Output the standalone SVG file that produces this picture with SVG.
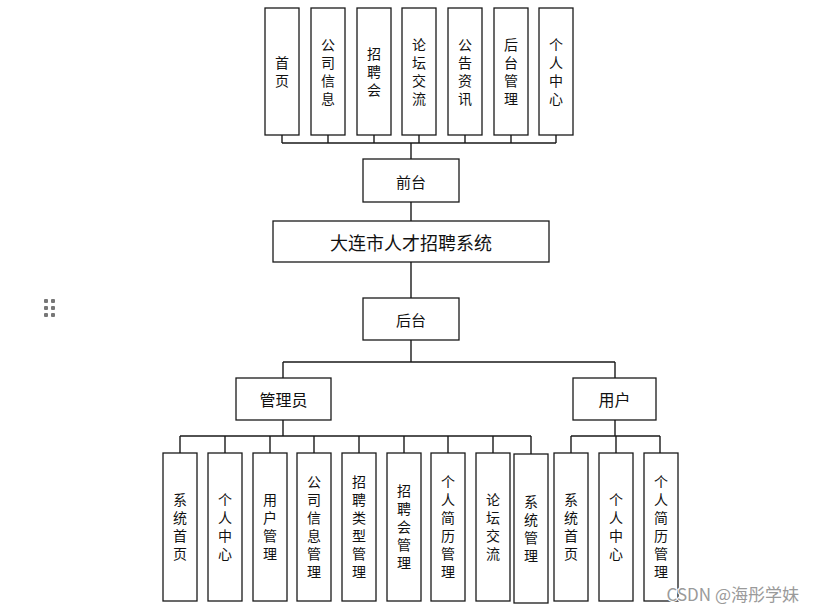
<svg xmlns="http://www.w3.org/2000/svg" width="816" height="612" viewBox="0 0 816 612">
<style>
.b{fill:#fff;stroke:#1a1a1a;stroke-width:1.3}
.t{font-family:"Noto Sans CJK SC","Microsoft YaHei",sans-serif;font-size:14px;fill:#111;text-anchor:middle;dominant-baseline:central}
.v{font-family:"Noto Sans CJK SC","Microsoft YaHei",sans-serif;font-size:14px;fill:#111;text-anchor:middle;writing-mode:vertical-rl;letter-spacing:4px}
.c{fill:none;stroke:#1a1a1a;stroke-width:1.4}
</style>
<rect width="816" height="612" fill="#fff"/>
<g id="handle" fill="#777">
<rect x="44" y="299" width="4" height="4" rx="1"/><rect x="51" y="299" width="4" height="4" rx="1"/>
<rect x="44" y="306" width="4" height="4" rx="1"/><rect x="51" y="306" width="4" height="4" rx="1"/>
<rect x="44" y="313" width="4" height="4" rx="1"/><rect x="51" y="313" width="4" height="4" rx="1"/>
</g>
<g id="connectors" class="c">
<path d="M282 135V143M328 135V143M374 135V143M419 135V143M465 135V143M511 135V143M556 135V143M282 143H556M411 143V159"/>
<path d="M411 202V221M411 262V298M411 340V362M283 362H615M283 362V378M615 362V378"/>
<path d="M283 420V436M180 436H531M180 436V453M225 436V453M270 436V453M314 436V453M359 436V453M404 436V453M448 436V453M493 436V453M531 436V454"/>
<path d="M615 420V436M571 436H660M571 436V453M616 436V453M660 436V453"/>
</g>
<g id="n_shouye"><rect class="b" x="265" y="8" width="34" height="127"/><text class="v" x="282" y="73.5">首页</text></g>
<g id="n_gongsixinxi"><rect class="b" x="311" y="8" width="34" height="127"/><text class="v" x="328" y="73.5">公司信息</text></g>
<g id="n_zhaopinhui"><rect class="b" x="357" y="8" width="34" height="127"/><text class="v" x="374" y="73.5">招聘会</text></g>
<g id="n_luntan"><rect class="b" x="402" y="8" width="34" height="127"/><text class="v" x="419" y="73.5">论坛交流</text></g>
<g id="n_gonggao"><rect class="b" x="448" y="8" width="34" height="127"/><text class="v" x="465" y="73.5">公告资讯</text></g>
<g id="n_houtaiguanli"><rect class="b" x="494" y="8" width="34" height="127"/><text class="v" x="511" y="73.5">后台管理</text></g>
<g id="n_gerenzhongxin"><rect class="b" x="539" y="8" width="34" height="127"/><text class="v" x="556" y="73.5">个人中心</text></g>
<g id="n_qiantai"><rect class="b" x="363" y="159" width="96" height="43"/><text class="t" x="411" y="181" style="font-size:15px">前台</text></g>
<g id="n_system"><rect class="b" x="273" y="221" width="276" height="41"/><text class="t" x="411" y="242" style="font-size:18px">大连市人才招聘系统</text></g>
<g id="n_houtai"><rect class="b" x="363" y="298" width="96" height="42"/><text class="t" x="411" y="319" style="font-size:15px">后台</text></g>
<g id="n_admin"><rect class="b" x="236" y="378" width="95" height="42"/><text class="t" x="283.5" y="399" style="font-size:16px">管理员</text></g>
<g id="n_user"><rect class="b" x="573" y="378" width="83" height="42"/><text class="t" x="614.5" y="399" style="font-size:16px">用户</text></g>
<g id="a1"><rect class="b" x="163" y="453" width="34" height="148"/><text class="v" x="180" y="529">系统首页</text></g>
<g id="a2"><rect class="b" x="208" y="453" width="34" height="148"/><text class="v" x="225" y="529">个人中心</text></g>
<g id="a3"><rect class="b" x="253" y="453" width="34" height="148"/><text class="v" x="270" y="529">用户管理</text></g>
<g id="a4"><rect class="b" x="297" y="453" width="34" height="148"/><text class="v" x="314" y="529">公司信息管理</text></g>
<g id="a5"><rect class="b" x="342" y="453" width="34" height="148"/><text class="v" x="359" y="529">招聘类型管理</text></g>
<g id="a6"><rect class="b" x="387" y="453" width="34" height="148"/><text class="v" x="404" y="529">招聘会管理</text></g>
<g id="a7"><rect class="b" x="431" y="453" width="34" height="148"/><text class="v" x="448" y="529">个人简历管理</text></g>
<g id="a8"><rect class="b" x="476" y="453" width="34" height="148"/><text class="v" x="493" y="529">论坛交流</text></g>
<g id="a9"><rect class="b" x="514" y="454" width="34" height="149"/><text class="v" x="531" y="530.5">系统管理</text></g>
<g id="u1"><rect class="b" x="554" y="453" width="34" height="148"/><text class="v" x="571" y="529">系统首页</text></g>
<g id="u2"><rect class="b" x="599" y="453" width="34" height="148"/><text class="v" x="616" y="529">个人中心</text></g>
<g id="u3"><rect class="b" x="644" y="453" width="34" height="148"/><text class="v" x="661" y="529">个人简历管理</text></g>
<text x="799" y="601" text-anchor="end" style="font-family:'Noto Sans CJK SC',sans-serif;font-size:17px;fill:#9a9a9a;stroke:#fff;stroke-width:2;paint-order:stroke">CSDN @海彤学妹</text>
</svg>
